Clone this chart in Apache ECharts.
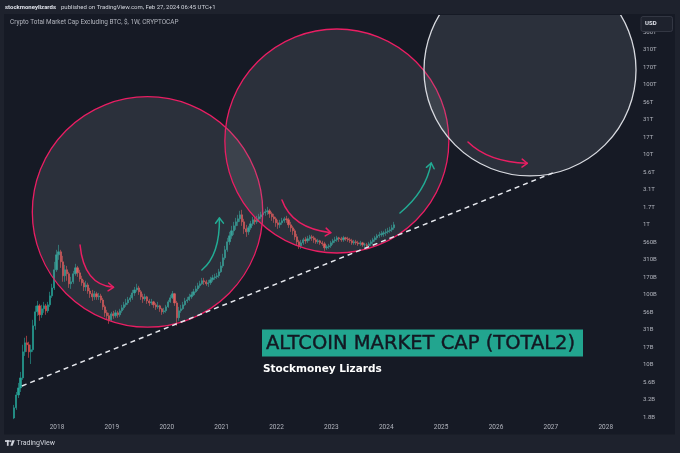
<!DOCTYPE html>
<html><head><meta charset="utf-8">
<script src="https://cdn.jsdelivr.net/npm/echarts@6/dist/echarts.min.js"></script>
<style>html,body{margin:0;padding:0;background:#1e222d;}#c{width:680px;height:453px;}</style>
</head><body><div id="c"></div>
<script>
// ---- data (values in billions of USD) ----
const startYear = 2017.22;      // first candle
const candlesPerYear = 26;      // two-week candles
const firstOpen = 1.72;
const closes = [
  2.41,3.68,4.64,6.45,15.2,20.5,19.2,15.2,16.3,35.9,
  56.8,69.2,51.5,62.7,69.2,58.7,71.5,96.1,125,227,
  371,410,295,186,227,199,143,153,199,242,
  205,168,148,129,138,113,103,93,103,93,
  96,84,67,55,50,43.7,53.2,49.8,55,51.5,
  58.7,64.8,71.5,76.3,84.3,90,106,117,125,110,
  93,87,93,81.5,76.3,78.9,71.5,66.9,69.2,62.7,
  56.8,58.7,66.9,78.9,90,103,76.3,46.7,58.7,62.7,
  71.5,81.5,84.3,93,99.4,110,121,134,143,158,
  153,143,148,163,174,180,186,212,258,336,
  438,570,694,818,965,1100,1215,1387,1100,874,
  792,903,1030,1176,1100,1215,1298,1387,1481,1531,
  1582,1433,1298,1215,1065,997,1065,1138,1215,1176,
  997,903,818,672,570,499,551,608,589,629,
  672,650,608,570,589,551,533,467,483,499,
  551,589,608,650,629,608,650,629,608,589,
  551,570,551,533,551,516,516,499,533,570,
  608,650,694,717,741,766,792,818,846,903,
  997
];
const highs = [
  2.65,4.06,5.47,7.86,19.2,24.2,25.8,21.2,19.2,43.7,
  69.2,81.5,73.9,71.5,78.9,73.9,78.9,110,143,295,
  438,516,438,359,267,258,212,180,219,276,
  258,227,186,163,158,148,125,117,113,110,
  106,103,90,71.5,60.6,55,56.8,58.7,60.6,58.7,
  62.7,71.5,78.9,87.1,93,99.4,117,129,143,134,
  117,103,103,96.1,87.1,87.1,81.5,76.3,78.9,71.5,
  64.8,64.8,71.5,84.3,99.4,113,106,81.5,66.9,71.5,
  78.9,90,93,103,110,121,134,148,158,174,
  174,163,163,180,192,199,205,234,295,384,
  499,650,792,965,1100,1256,1387,1582,1635,1215,
  997,965,1138,1298,1298,1342,1433,1531,1635,1690,
  1805,1690,1531,1433,1298,1176,1176,1256,1298,1342,
  1256,1100,965,874,741,608,608,650,672,694,
  717,717,694,650,629,608,589,570,516,533,
  589,629,672,694,672,672,694,672,672,650,
  629,608,608,589,589,570,551,551,570,608,
  650,694,741,792,818,818,874,903,934,997,
  1100
];
const lows = [
  1.66,2.25,3.33,4.06,6.04,13.3,15.2,12.5,10.2,15.2,
  31.5,49.8,42.3,46.7,55,51.5,55,66.9,90,117,
  212,315,242,153,153,158,125,121,143,186,
  180,153,134,113,113,103,90,81.5,84.3,84.3,
  84.3,76.3,60.6,48.2,43.7,38.3,40.9,45.2,46.7,46.7,
  48.2,55,60.6,66.9,71.5,78.9,84.3,96.1,110,99.4,
  84.3,76.3,81.5,73.9,69.2,71.5,64.8,60.6,62.7,56.8,
  51.5,53.2,55,64.8,76.3,87.1,69.2,35.9,42.3,55,
  60.6,69.2,76.3,81.5,87.1,96.1,106,113,125,138,
  138,134,129,138,153,163,168,174,205,242,
  315,410,516,629,717,846,965,1100,965,741,
  672,717,846,965,997,1030,1100,1215,1298,1342,
  1387,1256,1138,1065,934,874,903,997,1065,1065,
  903,792,717,608,499,452,452,516,533,551,
  589,589,551,533,533,516,499,423,438,452,
  467,516,551,570,570,570,570,589,570,551,
  516,516,516,499,499,483,483,467,483,499,
  533,570,608,650,672,672,694,741,766,792,
  846
];
const priceLabels = ['1.8B','3.2B','5.6B','10B','17B','31B','56B','100B','170B','310B','560B',
  '1T','1.7T','3.1T','5.6T','10T','17T','31T','56T','100T','170T','310T','560T'];
const yearLabels = ['2018','2019','2020','2021','2022','2023','2024','2025','2026','2027','2028'];
// trend line [year, value in B]
const trendFrom = [2017.36, 4.94];
const trendTo = [2027.08, 5690];
// annotation circles: centre [year, value in B], radius in years
const circleCenters = [[2019.65, 1524], [2023.10, 15780], [2026.62, 163700]];
const circleRadii = [2.10, 2.041, 1.932];
// annotation arrows: from / via / to  [year, value in B]
const arrowFrom = [[2018.42, 513], [2020.64, 225], [2022.10, 2262], [2024.25, 1474], [2025.49, 15290]];
const arrowVia  = [[2018.49, 137.5], [2020.97, 369.5], [2022.28, 899], [2024.72, 2944], [2025.86, 7907]];
const arrowTo   = [[2019.03, 127.5], [2020.96, 1250], [2022.99, 770], [2024.82, 7650], [2026.57, 7574]];

// ---- styles ----
const PINK = '#e91e63', GREEN = '#22ab94', WHITE = '#d1d4dc';
const circleStroke = [PINK, PINK, '#d8dae0'];
const arrowColor = [PINK, GREEN, PINK, GREEN, PINK];
const FRAME = '#1e222d', TXT = '#b2b5be';

const lg = v => Math.log10(v);
const candleData = closes.map((c, i) => {
  const o = i === 0 ? firstOpen : closes[i - 1];
  return [startYear + i / candlesPerYear, lg(o), lg(c), lg(lows[i]), lg(highs[i])];
});

const chart = echarts.init(document.getElementById('c'), null, {renderer: 'canvas', width: 680, height: 453});
const option = {
  animation: false,
  backgroundColor: '#161a25',
  grid: {left: 2.13, right: 43, top: 15, bottom: 18.5, containLabel: false, outerBoundsMode: 'none'},
  xAxis: {
    type: 'value', min: 2017, max: 2028.57, interval: 1,
    splitLine: {show: false}, axisLine: {show: false}, axisTick: {show: false},
    axisLabel: {inside: true, margin: 4, color: TXT, fontSize: 6.5, fontFamily: 'Roboto',
      formatter: v => yearLabels.indexOf(String(v)) >= 0 ? String(v) : ''}
  },
  yAxis: {
    type: 'value', position: 'right', min: 0, max: 6, interval: 0.25,
    splitLine: {show: false}, axisLine: {show: false}, axisTick: {show: false},
    axisLabel: {margin: 6, color: TXT, fontSize: 6, fontFamily: 'Roboto',
      formatter: v => priceLabels[Math.round(v / 0.25) - 1] || ''}
  },
  series: [
    {
      type: 'candlestick', z: 2, silent: true,
      data: candleData,
      encode: {x: 0, y: [1, 2, 3, 4]},
      barWidth: 1.7,
      itemStyle: {color: '#26a69a', color0: '#ef5350', borderColor: '#26a69a', borderColor0: '#ef5350', borderWidth: 0.6}
    },
    {
      type: 'custom', z: 3, clip: true, silent: true,
      data: circleCenters.map((c, i) => [c[0], lg(c[1]), circleRadii[i]]),
      encode: {x: 0, y: 1},
      renderItem: (params, api) => {
        const i = params.dataIndex;
        const p = api.coord([api.value(0), api.value(1)]);
        const r = api.size([api.value(2), 0])[0];
        return {type: 'circle', shape: {cx: p[0], cy: p[1], r: r},
          style: {fill: 'rgba(140,143,153,0.19)', stroke: circleStroke[i], lineWidth: 1.3}};
      }
    },
    {
      type: 'line', z: 4, silent: true, symbol: 'none',
      data: [[trendFrom[0], lg(trendFrom[1])], [trendTo[0], lg(trendTo[1])]],
      lineStyle: {color: '#e6e8ee', width: 1.5, type: [5, 4]}
    },
    {
      type: 'custom', z: 5, clip: true, silent: true,
      data: arrowFrom.map(p => [p[0], lg(p[1])]),
      encode: {x: 0, y: 1},
      renderItem: (params, api) => {
        const i = params.dataIndex;
        const p0 = api.coord([arrowFrom[i][0], lg(arrowFrom[i][1])]);
        const p1 = api.coord([arrowVia[i][0], lg(arrowVia[i][1])]);
        const p2 = api.coord([arrowTo[i][0], lg(arrowTo[i][1])]);
        const dx = p2[0] - p1[0], dy = p2[1] - p1[1];
        const len = Math.hypot(dx, dy) || 1, ux = dx / len, uy = dy / len;
        const hl = 6.5, ang = 0.65;
        const head = a => [p2[0] - hl * (ux * Math.cos(a) - uy * Math.sin(a)),
                           p2[1] - hl * (ux * Math.sin(a) + uy * Math.cos(a))];
        const st = {stroke: arrowColor[i], lineWidth: 1.5, fill: 'none', lineCap: 'round', lineJoin: 'round'};
        return {type: 'group', children: [
          {type: 'bezierCurve', shape: {x1: p0[0], y1: p0[1], cpx1: p1[0], cpy1: p1[1], x2: p2[0], y2: p2[1]}, style: st},
          {type: 'polyline', shape: {points: [head(ang), p2, head(-ang)]}, style: st}
        ]};
      }
    }
  ],
  graphic: [
    {type: 'rect', z: 100, silent: true, shape: {x: 0, y: 0, width: 680, height: 14}, style: {fill: FRAME}},
    {type: 'rect', z: 100, silent: true, shape: {x: 0, y: 434.5, width: 680, height: 19}, style: {fill: FRAME}},
    {type: 'rect', z: 100, silent: true, shape: {x: 0, y: 0, width: 4, height: 453}, style: {fill: FRAME}},
    {type: 'rect', z: 100, silent: true, shape: {x: 675, y: 0, width: 5, height: 453}, style: {fill: FRAME}},
    {type: 'text', z: 101, silent: true, style: {x: 5, y: 7.3, text: 'stockmoneylizards', fill: '#e0e3eb',
      font: 'bold 6px Roboto', textVerticalAlign: 'middle'}},
    {type: 'text', z: 101, silent: true, style: {x: 61, y: 7.3, text: 'published on TradingView.com, Feb 27, 2024 06:45 UTC+1',
      fill: '#d1d4dc', font: '6px Roboto', textVerticalAlign: 'middle'}},
    {type: 'text', z: 101, silent: true, style: {x: 10, y: 22, text: 'Crypto Total Market Cap Excluding BTC, $, 1W, CRYPTOCAP',
      fill: TXT, font: '6.4px Roboto', textVerticalAlign: 'middle'}},
    {type: 'rect', z: 101, silent: true, shape: {x: 641, y: 16.5, width: 31.5, height: 15, r: 2},
      style: {fill: FRAME, stroke: '#3a3e4a', lineWidth: 0.8}},
    {type: 'text', z: 102, silent: true, style: {x: 645, y: 23.5, text: 'USD', fill: '#e0e3eb',
      font: 'bold 6px Roboto', textVerticalAlign: 'middle'}},
    {type: 'rect', z: 101, silent: true, shape: {x: 262, y: 329.5, width: 321, height: 27}, style: {fill: '#22a58f'}},
    {type: 'text', z: 102, silent: true, style: {x: 266, y: 343.5, text: 'ALTCOIN MARKET CAP (TOTAL2)', fill: '#131722',
      font: '19.5px "DejaVu Sans"', textVerticalAlign: 'middle', stroke: '#131722', lineWidth: 0.4}},
    {type: 'text', z: 102, silent: true, style: {x: 263, y: 369.5, text: 'Stockmoney Lizards', fill: '#ffffff',
      font: 'bold 10.5px "DejaVu Sans"', textVerticalAlign: 'middle'}},
    // footer logo
    {type: 'rect', z: 101, silent: true, shape: {x: 5, y: 440.2, width: 4.6, height: 1.7}, style: {fill: WHITE}},
    {type: 'rect', z: 101, silent: true, shape: {x: 6.9, y: 440.2, width: 1.7, height: 5.6}, style: {fill: WHITE}},
    {type: 'circle', z: 101, silent: true, shape: {cx: 10.6, cy: 441.1, r: 0.95}, style: {fill: WHITE}},
    {type: 'polygon', z: 101, silent: true, shape: {points: [[12.2, 440.2], [14.8, 440.2], [12.6, 445.8], [10.4, 445.8]]}, style: {fill: WHITE}},
    {type: 'text', z: 101, silent: true, style: {x: 16.5, y: 443.2, text: 'TradingView', fill: WHITE,
      font: '7px Roboto', textVerticalAlign: 'middle'}}
  ]
};
chart.setOption(option);
</script>
</body></html>
